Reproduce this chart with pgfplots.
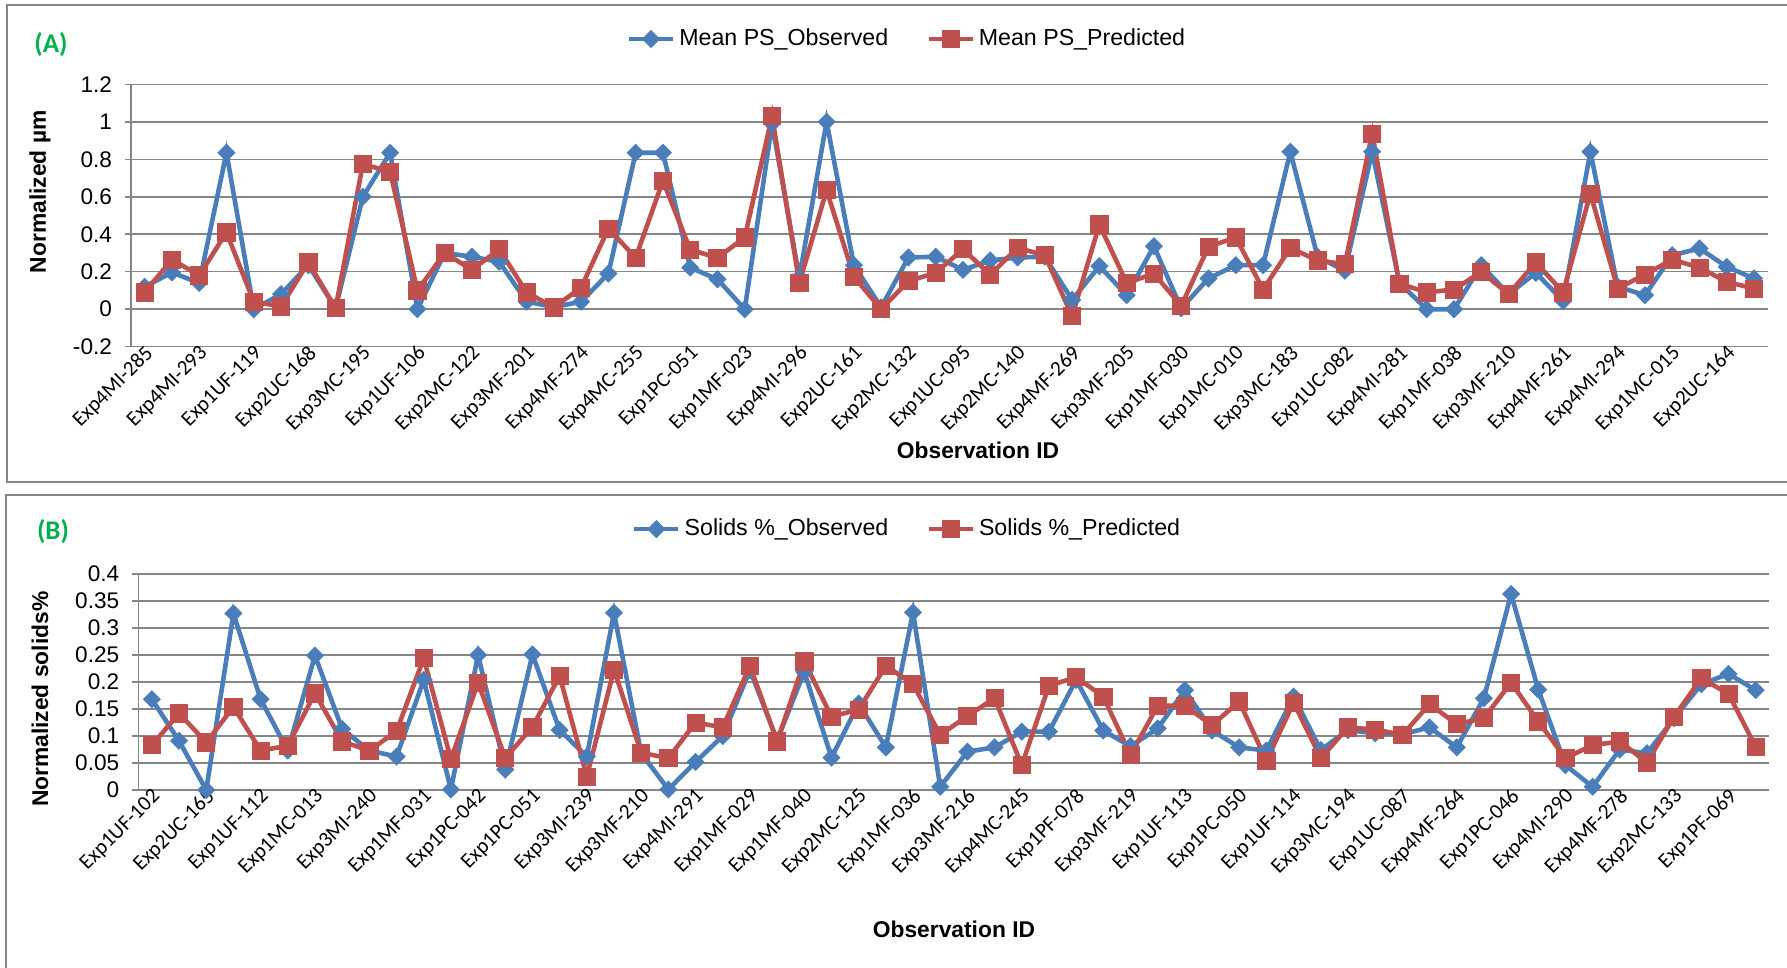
\documentclass[border=0pt]{standalone}
\usepackage{fontspec}
\setmainfont{Liberation Sans}
\newfontfamily\calibri{Carlito}
\usepackage{pgfplots}
\usepackage{pgfplotstable}
\pgfplotsset{compat=1.18}

\definecolor{obsblue}{RGB}{74,126,187}
\definecolor{predred}{RGB}{192,80,77}
\definecolor{gridgray}{RGB}{134,134,134}
\definecolor{tagGreen}{RGB}{0,176,80}

% Panel A: normalized mean particle size
\pgfplotstableread{
x obs pred
0 0.120 0.090
1 0.196 0.265
2 0.140 0.180
3 0.835 0.410
4 0.000 0.040
5 0.080 0.015
6 0.235 0.250
7 0.005 0.005
8 0.600 0.775
9 0.835 0.733
10 0.000 0.100
11 0.300 0.300
12 0.280 0.210
13 0.253 0.320
14 0.040 0.090
15 0.012 0.010
16 0.040 0.115
17 0.190 0.430
18 0.835 0.275
19 0.835 0.685
20 0.222 0.318
21 0.160 0.274
22 0.000 0.383
23 0.990 1.030
24 0.170 0.140
25 1.000 0.635
26 0.235 0.173
27 0.010 0.000
28 0.276 0.150
29 0.280 0.194
30 0.210 0.320
31 0.260 0.185
32 0.276 0.327
33 0.280 0.288
34 0.050 -0.037
35 0.230 0.452
36 0.075 0.140
37 0.336 0.190
38 0.005 0.018
39 0.164 0.333
40 0.235 0.383
41 0.235 0.105
42 0.840 0.327
43 0.280 0.260
44 0.205 0.240
45 0.840 0.937
46 0.140 0.137
47 0.000 0.090
48 0.000 0.105
49 0.235 0.200
50 0.080 0.080
51 0.194 0.250
52 0.044 0.090
53 0.840 0.617
54 0.120 0.110
55 0.075 0.185
56 0.288 0.265
57 0.324 0.222
58 0.226 0.146
59 0.164 0.110
}\psdata

% Panel B: normalized solids content
\pgfplotstableread{
x obs pred
0 0.168 0.083
1 0.091 0.142
2 0.000 0.088
3 0.327 0.154
4 0.168 0.073
5 0.073 0.082
6 0.249 0.179
7 0.113 0.090
8 0.073 0.073
9 0.062 0.109
10 0.204 0.244
11 0.001 0.057
12 0.250 0.199
13 0.038 0.059
14 0.251 0.117
15 0.111 0.211
16 0.062 0.025
17 0.328 0.223
18 0.068 0.069
19 0.001 0.059
20 0.052 0.125
21 0.100 0.116
22 0.222 0.230
23 0.092 0.090
24 0.219 0.238
25 0.060 0.136
26 0.160 0.149
27 0.079 0.230
28 0.329 0.196
29 0.006 0.102
30 0.071 0.137
31 0.079 0.170
32 0.108 0.046
33 0.108 0.193
34 0.204 0.209
35 0.110 0.173
36 0.081 0.065
37 0.114 0.156
38 0.185 0.156
39 0.110 0.120
40 0.079 0.164
41 0.073 0.054
42 0.173 0.162
43 0.074 0.059
44 0.111 0.116
45 0.105 0.112
46 0.103 0.102
47 0.116 0.159
48 0.079 0.122
49 0.170 0.133
50 0.363 0.199
51 0.186 0.127
52 0.046 0.059
53 0.006 0.083
54 0.075 0.090
55 0.068 0.051
56 0.133 0.136
57 0.196 0.207
58 0.215 0.178
59 0.185 0.080
}\solidsdata

\pgfplotsset{
  panel/.style={
    scale only axis, anchor=south west,
    xmin=-0.5, xmax=59.5,
    axis x line*=bottom, axis y line*=left,
    axis line style={gridgray, line width=0.75pt},
    x axis line style={draw=none},
    ymajorgrids, grid style={gridgray, line width=0.75pt},
    xtick={0,2,...,58},
    xtick style={draw=none},
    ytick style={gridgray, line width=0.75pt},
    tick align=outside, major tick length=3pt,
    xticklabel style={font=\calibri\fontsize{10.6}{12}\selectfont, anchor=north east, inner sep=0pt, xshift=-0.5pt, yshift=4.5pt, rotate=45},
    yticklabel style={font=\fontsize{11.3}{13}\selectfont, xshift=-3pt},
    /pgf/number format/assume math mode=true,
    /pgf/number format/fixed,
    /pgf/number format/precision=2,
    xlabel style={font=\bfseries\fontsize{11.4}{13}\selectfont, anchor=center},
    ylabel style={font=\bfseries\fontsize{11.4}{13}\selectfont, anchor=center},
    legend style={draw=none, fill=none, font=\fontsize{11.6}{13}\selectfont, anchor=center,
      /tikz/every even column/.append style={column sep=17pt}},
    legend columns=2,
    legend image code/.code={\draw[mark repeat=2,mark phase=2,#1] plot coordinates {(0pt,0pt) (11pt,0pt) (22pt,0pt)};},
  },
  obs/.style={obsblue, line width=2.3pt, mark=square*, mark size=3pt, mark options={rotate=45, line width=0.4pt}},
  pred/.style={predred, line width=2.3pt, mark=square*, mark size=4.3pt, mark options={line width=0.4pt}},
}

\begin{document}
\begin{tikzpicture}
\useasboundingbox (0,0) rectangle (893.5pt,-484pt);
\begin{scope}
  \clip (0,0) rectangle (893.5pt,-484pt);
  \draw[gridgray, line width=1pt] (3.3pt,-2.5pt) rectangle (900pt,-241pt);
  \draw[gridgray, line width=1pt] (3pt,-247.5pt) rectangle (900pt,-520pt);
\end{scope}
\node[font=\calibri\bfseries\fontsize{13.5}{15}\selectfont, text=tagGreen] at (25.5pt,-22.5pt) {(A)};
\node[font=\calibri\bfseries\fontsize{13.5}{15}\selectfont, text=tagGreen] at (26.5pt,-266pt) {(B)};

\begin{axis}[panel,
  at={(65.5pt,-173.35pt)}, width=818.35pt, height=131.2pt,
  ymin=-0.2, ymax=1.2, ytick={-0.2,0,0.2,0.4,0.6,0.8,1,1.2},
  xticklabels={Exp4MI-285,Exp4MI-293,Exp1UF-119,Exp2UC-168,Exp3MC-195,Exp1UF-106,Exp2MC-122,Exp3MF-201,Exp4MF-274,Exp4MC-255,Exp1PC-051,Exp1MF-023,Exp4MI-296,Exp2UC-161,Exp2MC-132,Exp1UC-095,Exp2MC-140,Exp4MF-269,Exp3MF-205,Exp1MF-030,Exp1MC-010,Exp3MC-183,Exp1UC-082,Exp4MI-281,Exp1MF-038,Exp3MF-210,Exp4MF-261,Exp4MI-294,Exp1MC-015,Exp2UC-164},
  xlabel={Observation ID}, ylabel={Normalized µm},
  xlabel style={at={(axis description cs:0.5175,-0.394)}},
  ylabel style={at={(axis description cs:-0.0556,0.59)}},
  legend style={at={(axis description cs:0.4747,1.1726)}},
]
\addplot[obs] table[x=x, y=obs] {\psdata};
\addlegendentry{Mean PS\_Observed}
\addplot[pred] table[x=x, y=pred] {\psdata};
\addlegendentry{Mean PS\_Predicted}
\end{axis}

\begin{axis}[panel,
  at={(69.15pt,-395pt)}, width=815.5pt, height=108pt,
  ymin=0, ymax=0.4, ytick={0,0.05,0.1,0.15,0.2,0.25,0.3,0.35,0.4},
  xticklabels={Exp1UF-102,Exp2UC-165,Exp1UF-112,Exp1MC-013,Exp3MI-240,Exp1MF-031,Exp1PC-042,Exp1PC-051,Exp3MI-239,Exp3MF-210,Exp4MI-291,Exp1MF-029,Exp1MF-040,Exp2MC-125,Exp1MF-036,Exp3MF-216,Exp4MC-245,Exp1PF-078,Exp3MF-219,Exp1UF-113,Exp1PC-050,Exp1UF-114,Exp3MC-194,Exp1UC-087,Exp4MF-264,Exp1PC-046,Exp4MI-290,Exp4MF-278,Exp2MC-133,Exp1PF-069},
  xlabel={Observation ID}, ylabel={Normalized solids\%},
  xlabel style={at={(axis description cs:0.5001,-0.6435)}},
  ylabel style={at={(axis description cs:-0.0603,0.42)}},
  legend style={at={(axis description cs:0.472,1.208)}},
]
\addplot[obs] table[x=x, y=obs] {\solidsdata};
\addlegendentry{Solids \%\_Observed}
\addplot[pred] table[x=x, y=pred] {\solidsdata};
\addlegendentry{Solids \%\_Predicted}
\end{axis}
\end{tikzpicture}
\end{document}
